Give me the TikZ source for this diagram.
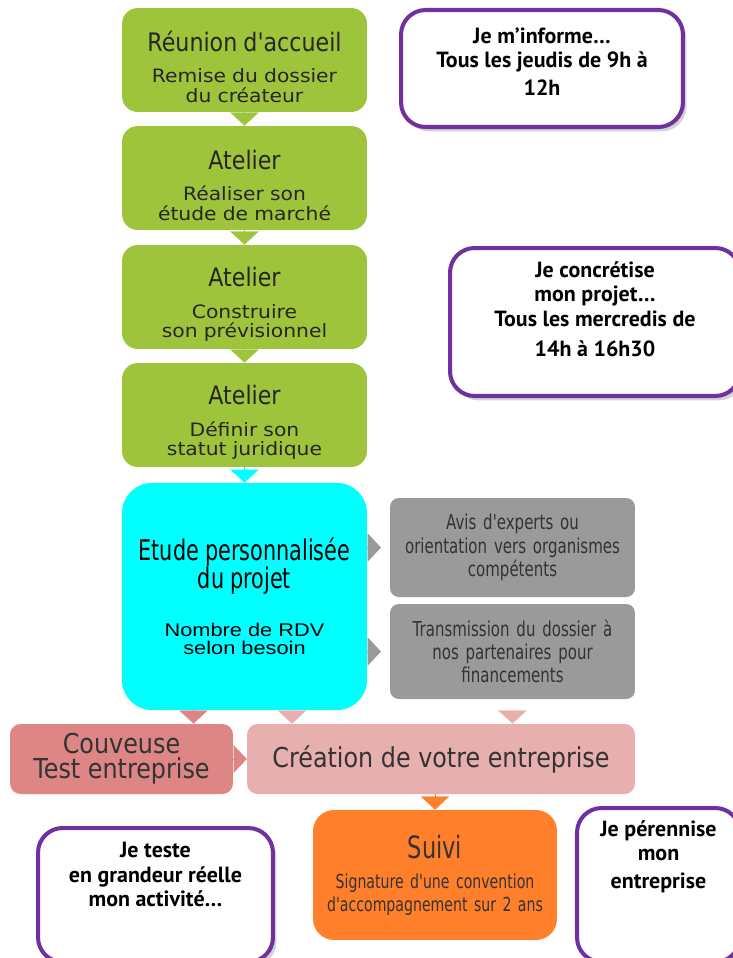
\documentclass[tikz,border=0pt]{standalone}
\usepackage{fontspec}
\usetikzlibrary{positioning, calc, shadows, arrows.meta}
\newfontfamily\condfont{DejaVu Sans}[FakeStretch=0.87]
\newfontfamily\narrowfont{DejaVu Sans}[FakeStretch=0.73]
\newfontfamily\widefont{DejaVu Sans}[FakeStretch=1.1]
\newfontfamily\arialwide{Liberation Sans}[FakeStretch=1.18]
\newfontfamily\gillfont{PT Sans}
\definecolor{Leaf}{HTML}{9DC43B}
\definecolor{Aqua}{HTML}{00FFFF}
\definecolor{Stone}{HTML}{9A9A9A}
\definecolor{Rose}{HTML}{DE8686}
\definecolor{Blush}{HTML}{E8AFAF}
\definecolor{Tangerine}{HTML}{FF7F2A}
\definecolor{Plum}{HTML}{7030A0}
\newcommand\boxtitle[1]{\vskip3.2pt{\condfont\fontsize{14.5}{16}\selectfont #1\par}\vskip7pt}

\begin{document}
\begin{tikzpicture}[
    x=0.02cm, y=-0.02cm,
    stepbox/.style={rectangle, rounded corners=9pt, fill=Leaf, text=black!85,
      minimum width=4.9cm, minimum height=2.08cm, text width=4.6cm, align=center,
      inner sep=0pt, font=\widefont\fontsize{10.5}{11}\selectfont},
    etudebox/.style={rectangle, rounded corners=17pt, fill=Aqua, text=black,
      minimum width=4.9cm, minimum height=4.54cm, text width=4.6cm, align=center,
      inner sep=0pt, font=\arialwide\fontsize{10.5}{10.5}\selectfont},
    greybox/.style={rectangle, rounded corners=5pt, fill=Stone, text=black!80,
      minimum width=4.9cm, text width=4.6cm, align=center, inner sep=0pt,
      font=\narrowfont\fontsize{11.7}{13.3}\selectfont},
    pinkbox/.style={rectangle, rounded corners=6pt, text=black!80, minimum height=1.4cm,
      align=center, inner sep=0pt, font=\condfont\fontsize{15.6}{14.2}\selectfont},
    suivibox/.style={rectangle, rounded corners=12pt, fill=Tangerine, text=black!80,
      minimum width=4.88cm, minimum height=2.6cm, text width=4.6cm, align=center,
      inner sep=0pt, font=\narrowfont\fontsize{11}{13}\selectfont},
    infobox/.style={rectangle, draw=Plum, line width=2.3pt, rounded corners=14pt, fill=white,
      drop shadow={shadow xshift=2pt, shadow yshift=-2.5pt, opacity=0.35}},
    infotext/.style={align=center, inner sep=0pt,
      font=\gillfont\bfseries\fontsize{12.5}{14}\selectfont},
    tip/.style={color=#1, line width=0.1pt, -{Triangle[width=16pt, length=7.5pt]}},
  ]
  \path[use as bounding box] (0,0) rectangle (733,958);

  % parcours
  \node[stepbox] (accueil) at (244.5,60) {\boxtitle{Réunion d'accueil}Remise du dossier\\du créateur};
  \node[stepbox] (marche) at (244.5,178) {\boxtitle{Atelier}Réaliser son\\étude de marché};
  \node[stepbox] (previ) at (244.5,297) {\boxtitle{Atelier}Construire\\son prévisionnel};
  \node[stepbox] (statut) at (244.5,415) {\boxtitle{Atelier}Définir son\\statut juridique};
  \node[etudebox] (etude) at (244.5,596.5) {{\narrowfont\fontsize{16.2}{16}\selectfont Etude personnalisée\\du projet\par}\vskip15pt Nombre de RDV\\selon besoin};
  \node[greybox, minimum height=1.98cm] (experts) at (512.5,547.5) {Avis d'experts ou\\orientation vers organismes\\compétents};
  \node[greybox, minimum height=1.9cm] (partenaires) at (512.5,651.5) {Transmission du dossier à\\nos partenaires pour\\financements};
  \node[pinkbox, fill=Rose, minimum width=4.46cm] (couveuse) at (121.5,759) {Couveuse\\Test entreprise};
  \node[pinkbox, fill=Blush, minimum width=7.76cm] (creation) at (441,759) {Création de votre entreprise};
  \node[suivibox] (suivi) at (435,875) {{\narrowfont\fontsize{17.5}{18}\selectfont Suivi\par}\vskip4pt Signature d'une convention\\d'accompagnement sur 2 ans};

  % triangles
  \draw[tip=Leaf] (accueil) -- (marche);
  \draw[tip=Leaf] (marche) -- (previ);
  \draw[tip=Leaf] (previ) -- (statut);
  \draw[tip=Aqua] (statut) -- (etude);
  \draw[tip=Stone, shorten >=5pt] (etude.east |- experts.west) -- (experts.west);
  \draw[tip=Stone, shorten >=5pt] (etude.east |- partenaires.west) -- (partenaires.west);
  \coordinate (versCouveuse) at ($(etude.south)+(-51,0)$);
  \coordinate (versCreation) at ($(etude.south)+(47.5,0)$);
  \draw[tip=Rose] (versCouveuse) -- (versCouveuse |- couveuse.north);
  \draw[tip=Blush] (versCreation) -- (versCreation |- creation.north);
  \draw[tip=Blush] (partenaires.south |- etude.south) -- (partenaires.south |- creation.north);
  \draw[tip=Rose] (couveuse) -- (creation);
  \draw[tip=Tangerine] (suivi.north |- creation.south) -- (suivi.north);

  % bulles
  \node[infobox, minimum width=5.64cm, minimum height=2.34cm] (informe) at (542,68.5) {};
  \node[infotext, below=11pt of informe.north] (informeTxt) {Je m’informe…\\Tous les jeudis de 9h à\\[2pt]12h};
  \node[infobox, minimum width=5.8cm, minimum height=2.96cm] (concretise) at (595,322) {};
  \node[infotext, below=8.5pt of concretise.north] (concretiseTxt) {Je concrétise\\mon projet…\\Tous les mercredis de\\[3pt]14h à 16h30};
  \node[infobox, minimum width=4.7cm, minimum height=2.68cm] (teste) at (155.5,895) {};
  \node[infotext, below=9pt of teste.north] (testeTxt) {Je teste\\en grandeur réelle\\mon activité…};
  \node[infobox, minimum width=3.26cm, minimum height=3.08cm] (perennise) at (658.5,885) {};
  \node[infotext, below=8pt of perennise.north] (perenniseTxt) {Je pérennise\\mon\\[2pt]entreprise};
\end{tikzpicture}
\end{document}
